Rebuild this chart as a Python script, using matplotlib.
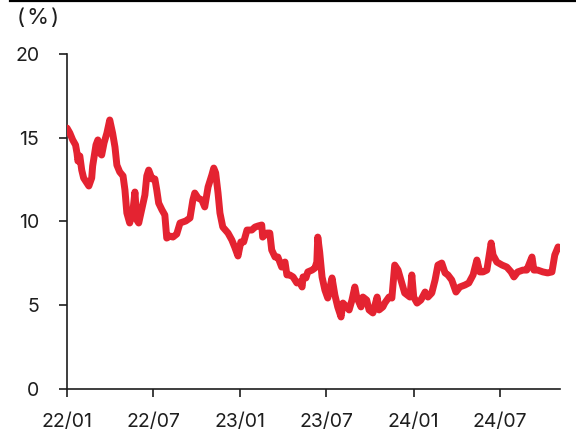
import matplotlib
matplotlib.use("Agg")
import matplotlib.pyplot as plt
import pandas as pd
from matplotlib.lines import Line2D

dates = [
    "2022-01-01", "2022-01-07", "2022-01-13", "2022-01-19", "2022-01-22", "2022-01-24", "2022-01-28",
    "2022-02-01", "2022-02-05", "2022-02-12", "2022-02-16", "2022-02-22", "2022-02-24",
    "2022-03-03", "2022-03-07", "2022-03-11", "2022-03-15", "2022-03-20", "2022-03-26",
    "2022-04-01", "2022-04-07", "2022-04-12", "2022-04-16", "2022-04-22", "2022-04-29",
    "2022-05-03", "2022-05-07", "2022-05-13", "2022-05-20", "2022-05-24", "2022-05-28",
    "2022-06-01", "2022-06-08", "2022-06-14", "2022-06-18", "2022-06-22", "2022-06-29",
    "2022-07-05", "2022-07-09", "2022-07-13", "2022-07-20", "2022-07-26", "2022-07-30",
    "2022-08-06", "2022-08-12", "2022-08-20", "2022-08-27",
    "2022-09-02", "2022-09-08", "2022-09-17", "2022-09-23", "2022-09-27",
    "2022-10-04", "2022-10-12", "2022-10-18", "2022-10-25",
    "2022-11-02", "2022-11-06", "2022-11-10", "2022-11-15", "2022-11-19", "2022-11-25",
    "2022-12-06", "2022-12-14", "2022-12-20", "2022-12-27",
    "2023-01-02", "2023-01-08", "2023-01-15", "2023-01-25",
    "2023-02-01", "2023-02-07", "2023-02-15", "2023-02-17", "2023-02-26",
    "2023-03-04", "2023-03-08", "2023-03-15", "2023-03-21", "2023-03-29",
    "2023-04-05", "2023-04-09", "2023-04-15", "2023-04-22", "2023-04-30",
    "2023-05-06", "2023-05-11", "2023-05-13", "2023-05-19", "2023-05-23",
    "2023-06-01", "2023-06-07", "2023-06-11", "2023-06-13", "2023-06-17", "2023-06-22", "2023-06-28",
    "2023-07-04", "2023-07-13", "2023-07-19", "2023-07-25",
    "2023-08-01", "2023-08-05", "2023-08-13", "2023-08-18", "2023-08-24", "2023-08-30",
    "2023-09-03", "2023-09-12", "2023-09-16", "2023-09-24", "2023-09-29",
    "2023-10-07", "2023-10-16", "2023-10-20", "2023-10-28",
    "2023-11-01", "2023-11-10", "2023-11-16", "2023-11-22", "2023-11-29",
    "2023-12-07", "2023-12-13", "2023-12-24", "2023-12-28",
    "2024-01-01", "2024-01-08", "2024-01-16", "2024-01-25", "2024-01-31",
    "2024-02-08", "2024-02-15", "2024-02-21", "2024-02-29",
    "2024-03-07", "2024-03-13", "2024-03-21", "2024-03-30",
    "2024-04-07", "2024-04-18", "2024-04-26",
    "2024-05-05", "2024-05-13", "2024-05-19", "2024-05-26",
    "2024-06-03", "2024-06-12", "2024-06-16", "2024-06-24",
    "2024-07-05", "2024-07-15", "2024-07-24", "2024-07-30",
    "2024-08-07", "2024-08-18", "2024-08-26",
    "2024-09-06", "2024-09-10", "2024-09-18", "2024-09-29",
    "2024-10-09", "2024-10-18", "2024-10-24", "2024-10-31", "2024-11-04",
]

values = [
    15.58, 15.28, 14.87, 14.57, 14.09, 13.61, 13.91,
    13.07, 12.60, 12.30, 12.12, 12.60, 13.31,
    14.57, 14.87, 14.09, 13.97, 14.69, 15.28,
    16.06, 15.28, 14.45, 13.37, 12.96, 12.72,
    11.88, 10.51, 9.91, 10.69, 11.76, 10.09,
    9.91, 10.81, 11.58, 12.72, 13.07, 12.54,
    12.54, 11.88, 11.10, 10.69, 10.39, 9.01,
    9.13, 9.07, 9.25, 9.91,
    9.97, 10.03, 10.21, 11.28, 11.70,
    11.40, 11.28, 10.87, 12.06,
    12.78, 13.19, 12.90, 11.70, 10.51, 9.67,
    9.31, 8.90, 8.48, 7.94,
    8.78, 8.78, 9.49, 9.49,
    9.67, 9.73, 9.79, 9.07, 9.31,
    9.31, 8.30, 7.88, 7.88, 7.28,
    7.58, 6.81, 6.81, 6.69, 6.33,
    6.39, 6.09, 6.69, 6.63, 6.99,
    7.10, 7.22, 7.58, 9.07, 8.18, 6.69, 5.91,
    5.43, 6.63, 5.61, 4.90,
    4.30, 5.13, 4.90, 4.72, 5.31, 6.09,
    5.49, 4.90, 5.49, 5.31, 4.72,
    4.54, 5.49, 4.72, 4.90,
    5.13, 5.49, 5.43, 7.40, 7.10,
    6.33, 5.73, 5.49, 6.81,
    5.49, 5.13, 5.31, 5.79, 5.49,
    5.73, 6.51, 7.40, 7.52,
    6.93, 6.81, 6.51, 5.79,
    6.09, 6.21, 6.33,
    6.81, 7.70, 6.99, 6.99,
    7.10, 8.72, 8.00, 7.58,
    7.40, 7.28, 6.99, 6.69,
    6.99, 7.10, 7.10,
    7.88, 7.10, 7.10, 6.99,
    6.93, 6.99, 8.00, 8.48, 8.42,
]

y_ticks = [0, 5, 10, 15, 20]
x_tick_dates = ["2022-01-01", "2022-07-01", "2023-01-01", "2023-07-01", "2024-01-01", "2024-07-01"]
x_tick_labels = ["22/01", "22/07", "23/01", "23/07", "24/01", "24/07"]
unit_label = "(\u200a%\u200a)"

assert len(dates) == len(values)

plt.rcParams['font.family'] = ['Inter', 'DejaVu Sans']
text_color = "#1e1e1e"

fig = plt.figure(figsize=(5.76, 4.34), dpi=100)
ax = fig.add_axes([67 / 576, 1 - 389 / 434, (560 - 67) / 576, (389 - 54) / 434])

x = pd.to_datetime(dates)
ax.plot(x, values, color="#E42331", linewidth=5.0, solid_joinstyle="round",
        solid_capstyle="round", zorder=3)

ax.set_ylim(0, 20)
ax.set_yticks(y_ticks)
ax.set_yticklabels([str(t) for t in y_ticks])
ax.set_xlim(x[0], x[-1])
ax.set_xticks(pd.to_datetime(x_tick_dates))
ax.set_xticklabels(x_tick_labels)

for side in ["top", "right"]:
    ax.spines[side].set_visible(False)
for side in ["left", "bottom"]:
    ax.spines[side].set_linewidth(1.2)
    ax.spines[side].set_color(text_color)

ax.tick_params(axis="y", direction="out", length=6, width=1.2, pad=14,
               labelsize=14, colors=text_color)
ax.tick_params(axis="x", direction="out", length=6, width=1.2, pad=11,
               labelsize=14, colors=text_color)

fig.text(17 / 576, 1 - 18 / 434, unit_label, fontsize=16, color=text_color,
         ha="left", va="center")

fig.add_artist(Line2D([10 / 576, 1.0], [0.998, 0.998], color="black",
                      linewidth=1.6, transform=fig.transFigure))

fig.savefig("out.png", dpi=100)
